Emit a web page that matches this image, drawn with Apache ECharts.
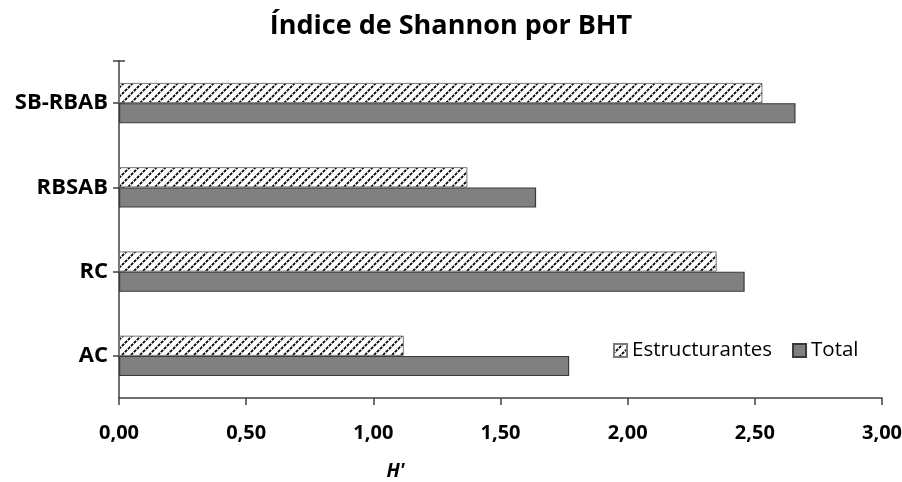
<!DOCTYPE html>
<html>
<head>
<meta charset="utf-8">
<script src="https://cdn.jsdelivr.net/npm/echarts@6/dist/echarts.min.js"></script>
<style>
  html, body { margin: 0; padding: 0; background: #fff; }
  #chart { width: 902px; height: 482px; }
</style>
</head>
<body>
<div id="chart"></div>
<script>
// Shannon diversity index (H') per habitat type
const categories = ['AC', 'RC', 'RBSAB', 'SB-RBAB'];
const estructurantes = [1.12, 2.35, 1.37, 2.53];
const total = [1.77, 2.46, 1.64, 2.66];
const xTicks = { min: 0, max: 3, interval: 0.5 };

// Dotted diagonal hatch used for the "Estructurantes" bars
function hatchPattern() {
  const size = 9;
  const c = document.createElement('canvas');
  c.width = size; c.height = size;
  const ctx = c.getContext('2d');
  ctx.fillStyle = '#ffffff';
  ctx.fillRect(0, 0, size, size);
  ctx.strokeStyle = '#000000';
  ctx.lineWidth = 1.8;
  ctx.setLineDash([3, 1.2]);
  for (const off of [-size, 0, size]) {
    ctx.beginPath();
    ctx.moveTo(off - 1, size + 1);
    ctx.lineTo(off + size + 1, -1);
    ctx.stroke();
  }
  return c;
}

const font = '"Open Sans", "Liberation Sans", sans-serif';
const axisColor = '#404040';
const tickStyle = { color: axisColor, width: 1.5 };

// Helper axis that only draws the cap tick at the top end of the category axis
function capAxis(inside) {
  return {
    type: 'value',
    position: 'left',
    min: 0,
    max: 1,
    axisLine: { show: false },
    axisLabel: { show: false },
    splitLine: { show: false },
    axisTick: { show: true, inside, length: 6, customValues: [1], lineStyle: tickStyle }
  };
}

const chart = echarts.init(document.getElementById('chart'), null, { renderer: 'canvas' });

chart.setOption({
  animation: false,
  title: {
    text: 'Índice de Shannon por BHT',
    left: 'center',
    top: 8,
    textStyle: { fontFamily: font, fontWeight: 'bold', fontSize: 27, color: '#000' }
  },
  legend: {
    left: 608,
    top: 335,
    icon: 'rect',
    itemWidth: 13,
    itemHeight: 13,
    itemGap: 20,
    textStyle: { fontFamily: font, fontSize: 20.5, color: '#000' },
    data: ['Estructurantes', 'Total']
  },
  grid: { left: 119, right: 20, top: 61, bottom: 84, containLabel: false, outerBoundsMode: 'none' },
  xAxis: {
    type: 'value',
    min: xTicks.min,
    max: xTicks.max,
    interval: xTicks.interval,
    name: "H'",
    nameLocation: 'middle',
    nameGap: 64,
    nameTextStyle: { fontFamily: font, fontStyle: 'italic', fontWeight: 'bold', fontSize: 19, color: '#000', padding: [0, 0, 0, -210] },
    axisLine: { show: true, lineStyle: tickStyle },
    axisTick: { show: true, length: 7, lineStyle: tickStyle },
    axisLabel: {
      margin: 25,
      fontFamily: font, fontWeight: 'bold', fontSize: 20, color: '#000',
      formatter: v => v.toFixed(2).replace('.', ',')
    },
    splitLine: { show: false }
  },
  yAxis: [
    {
      type: 'category',
      data: categories,
      axisLine: { show: true, lineStyle: tickStyle },
      axisTick: { show: true, alignWithLabel: true, length: 6, lineStyle: tickStyle },
      axisLabel: { margin: 11, fontFamily: font, fontWeight: 'bold', fontSize: 22, color: '#000' }
    },
    {
      // inner half of the crossing tick marks
      type: 'category',
      data: categories,
      position: 'left',
      axisLine: { show: false },
      axisTick: { show: true, inside: true, alignWithLabel: true, length: 6, lineStyle: tickStyle },
      axisLabel: { show: false }
    },
    capAxis(false),
    capAxis(true)
  ],
  series: [
    {
      name: 'Estructurantes',
      type: 'bar',
      data: estructurantes,
      barGap: '0%',
      barCategoryGap: '52%',
      itemStyle: {
        color: { image: hatchPattern(), repeat: 'repeat' },
        borderColor: '#7a7a7a',
        borderWidth: 1
      }
    },
    {
      name: 'Total',
      type: 'bar',
      data: total,
      barGap: '0%',
      barCategoryGap: '52%',
      itemStyle: { color: '#808080', borderColor: '#3a3a3a', borderWidth: 1.2 }
    }
  ]
});
</script>
</body>
</html>
